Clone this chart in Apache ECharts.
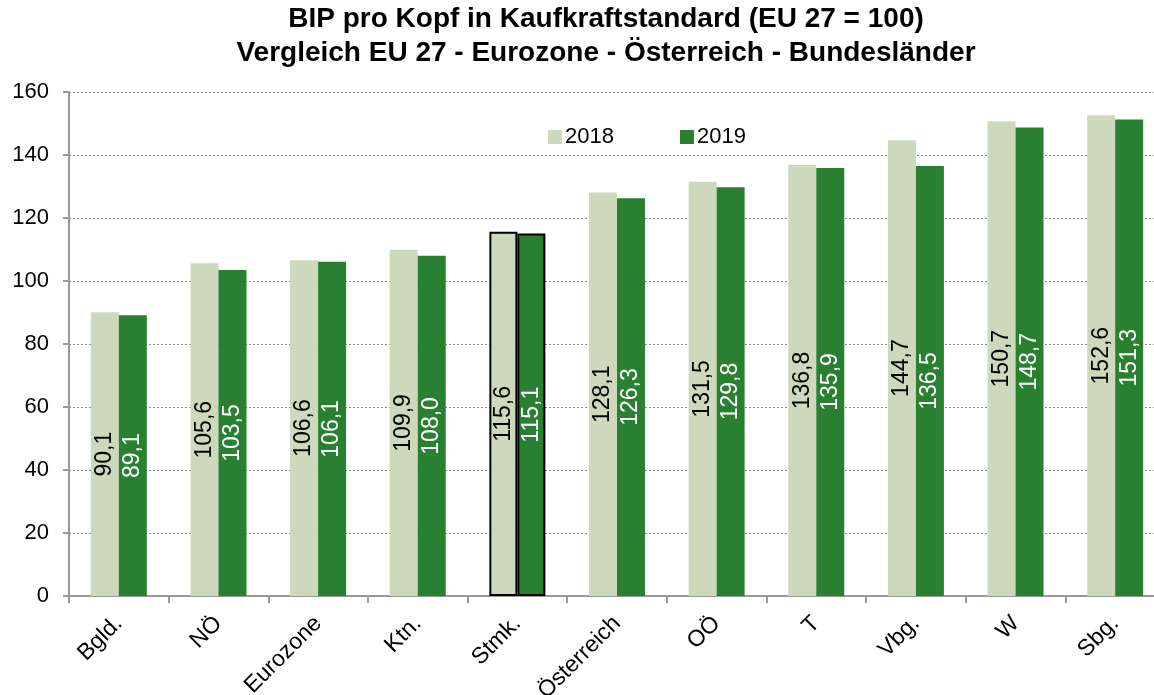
<!DOCTYPE html>
<html>
<head>
<meta charset="utf-8">
<script src="https://cdn.jsdelivr.net/npm/echarts@6/dist/echarts.min.js"></script>
<style>
  html, body { margin: 0; padding: 0; background: #fff; }
  #main { width: 1154px; height: 695px; }
</style>
</head>
<body>
<div id="main"></div>
<script>
// Bundesländer + Vergleichsregionen
var categories = ['Bgld.', 'NÖ', 'Eurozone', 'Ktn.', 'Stmk.', 'Österreich', 'OÖ', 'T', 'Vbg.', 'W', 'Sbg.'];
var values2018 = [90.1, 105.6, 106.6, 109.9, 115.6, 128.1, 131.5, 136.8, 144.7, 150.7, 152.6];
var values2019 = [89.1, 103.5, 106.1, 108.0, 115.1, 126.3, 129.8, 135.9, 136.5, 148.7, 151.3];
var yTicks = [0, 20, 40, 60, 80, 100, 120, 140, 160];
var highlight = 'Stmk.'; // Steiermark hervorgehoben

var font = '"Liberation Sans", Arial, sans-serif';

function toItems(arr) {
  return arr.map(function (v, i) {
    var item = { value: v };
    if (categories[i] === highlight) {
      item.itemStyle = { borderColor: '#000', borderWidth: 2 };
    }
    return item;
  });
}

function fmt(p) {
  return p.value.toFixed(1).replace('.', ',');
}

var chart = echarts.init(document.getElementById('main'));
var option = {
  backgroundColor: '#fff',
  animation: false,
  title: {
    text: 'BIP pro Kopf in Kaufkraftstandard (EU 27 = 100)\nVergleich EU 27 - Eurozone - Österreich - Bundesländer',
    left: 601,
    textAlign: 'center',
    top: -3,
    textStyle: {
      fontFamily: font,
      fontSize: 28,
      fontWeight: 'bold',
      color: '#000',
      lineHeight: 34
    }
  },
  legend: {
    data: ['2018', '2019'],
    left: 543,
    top: 121,
    itemWidth: 14,
    itemHeight: 14,
    itemGap: 66,
    icon: 'rect',
    textStyle: { fontFamily: font, fontSize: 22, color: '#000', padding: [0, 0, 0, -2] }
  },
  grid: {
    left: 69,
    right: -11,
    top: 92,
    bottom: 99,
    containLabel: false,
    outerBoundsMode: 'none'
  },
  xAxis: {
    type: 'category',
    data: categories,
    axisLine: { lineStyle: { color: '#999', width: 2 } },
    axisTick: { show: true, length: 7, lineStyle: { color: '#999', width: 2 } },
    axisLabel: {
      rotate: 45,
      fontFamily: font,
      fontSize: 23,
      color: '#000',
      margin: 24,
      interval: 0
    }
  },
  yAxis: {
    type: 'value',
    min: yTicks[0],
    max: yTicks[yTicks.length - 1],
    interval: 20,
    axisLine: { show: true, lineStyle: { color: '#999', width: 2 } },
    axisTick: { show: true, length: 6, lineStyle: { color: '#999', width: 2 } },
    axisLabel: { fontFamily: font, fontSize: 22, color: '#000', margin: 20 },
    splitLine: { lineStyle: { color: '#888', type: [2, 2], width: 1 } }
  },
  series: [
    {
      name: '2018',
      type: 'bar',
      barWidth: 28,
      barGap: '0%',
      data: toItems(values2018),
      itemStyle: { color: '#CDD9BB' },
      label: {
        show: true,
        position: 'inside',
        rotate: 90,
        formatter: fmt,
        fontFamily: font,
        fontSize: 23,
        color: '#000'
      }
    },
    {
      name: '2019',
      type: 'bar',
      barWidth: 28,
      data: toItems(values2019),
      itemStyle: { color: '#2A8031' },
      label: {
        show: true,
        position: 'inside',
        rotate: 90,
        formatter: fmt,
        fontFamily: font,
        fontSize: 23,
        color: '#fff'
      }
    }
  ]
};
chart.setOption(option);
</script>
</body>
</html>
